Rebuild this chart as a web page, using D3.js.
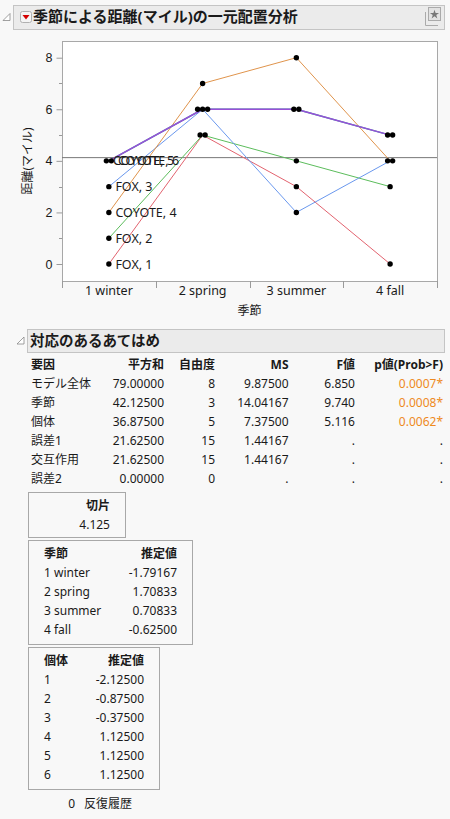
<!DOCTYPE html>
<html>
<head>
<meta charset="utf-8">
<script src="https://cdn.jsdelivr.net/npm/d3@7"></script>
<style>
	body { margin:0; background:#f8f8f8; }
	svg { display:block; font-family:"Noto Sans","Noto Sans CJK JP",sans-serif; }
	text { fill:#1a1a1a; }
</style>
</head>
<body>
<div id="chart"></div>
<script>

// ---- data ----
const seasons = ['1 winter','2 spring','3 summer','4 fall'];
const animals = ['FOX, 1','FOX, 2','FOX, 3','COYOTE, 4','COYOTE, 5','COYOTE, 6'];
const fox1 = [0,5,3,0];
const fox2 = [1,5,4,3];
const fox3 = [3,6,2,4];
const coyote4 = [2,7,8,4];
const coyote5 = [4,6,6,5];
const coyote6 = [4,6,6,5];
const lineColors = ['#e2636f','#5cbd5c','#6a98ee','#e0944c','#2aa198','#9a4fd8'];
const yTicks = [0,2,4,6,8];
const yMinor = [1,3,5,7];
const grandMean = 4.125;

const sources = ['モデル全体','季節','個体','誤差1','交互作用','誤差2'];
const sumSq = [79.0,42.125,36.875,21.625,21.625,0.0];
const dfs = [8,3,5,15,15,0];
const meanSq = [9.875,14.04167,7.375,1.44167,1.44167,null];
const fRatio = [6.850,9.740,5.116,null,null,null];
const pValue = [0.0007,0.0008,0.0062,null,null,null];

const seasonEst = [-1.79167,1.70833,0.70833,-0.625];
const animalIds = ['1','2','3','4','5','6'];
const animalEst = [-2.125,-0.875,-0.375,1.125,1.125,1.125];
const iterations = 0;

const series = [fox1,fox2,fox3,coyote4,coyote5,coyote6];

// ---- svg ----
const W = 450, H = 819;
const svg = d3.select('#chart').append('svg')
	.attr('width', W)
	.attr('height', H);

////////////////////////////////////////////////////////////////////
// header bars

function outlineHeader(x, y, w, h) {
	svg.append('polygon')
		.attr('points', `${x-10},${y+h/2+3.5} ${x-3},${y+h/2+3.5} ${x-3},${y+h/2-3.5}`)
		.attr('fill', '#fff')
		.attr('stroke', '#888')
		.attr('stroke-width', 0.8);
	svg.append('rect')
		.attr('x', x+0.5).attr('y', y+0.5)
		.attr('width', w).attr('height', h)
		.attr('fill', '#ebebeb')
		.attr('stroke', '#c4c4c4');
}

outlineHeader(13, 5, 431, 24);
// red menu button
svg.append('rect')
	.attr('x', 20.5).attr('y', 11.5)
	.attr('width', 11).attr('height', 11).attr('rx', 2)
	.attr('fill', '#f4f4f4').attr('stroke', '#b0b0b0');
svg.append('polygon')
	.attr('points', '22.5,15 29.5,15 26,19.5')
	.attr('fill', '#d40000');
svg.append('text')
	.attr('x', 33).attr('y', 17).attr('dy', '0.36em')
	.style('font-size', '15px').style('font-weight', 'bold')
	.text('季節による距離(マイル)の一元配置分析');
// star button
svg.append('path')
	.attr('d', 'M425.5,12 V25.5 H438')
	.attr('fill', 'none').attr('stroke', '#aaa');
svg.append('rect')
	.attr('x', 428.5).attr('y', 7.5).attr('width', 12).attr('height', 13)
	.attr('fill', '#e2e2e2').attr('stroke', '#aaa');
svg.append('path')
	.attr('d', d3.symbol(d3.symbolStar, 26)())
	.attr('transform', 'translate(434.5,14.5)')
	.attr('fill', '#777');

outlineHeader(27, 329, 417, 23);
svg.append('text')
	.attr('x', 30).attr('y', 341).attr('dy', '0.36em')
	.style('font-size', '14.5px').style('font-weight', 'bold')
	.text('対応のあるあてはめ');

////////////////////////////////////////////////////////////////////
// plot

const frame = {l:62, r:437, t:41, b:281};

const scaleX = d3.scaleBand().domain(seasons).range([frame.l, frame.r]);
const scaleY = d3.scaleLinear().domain([0,8]).range([264, 57.7]);
const mid = s => scaleX(s) + scaleX.bandwidth()/2;

svg.append('rect')
	.attr('x', frame.l+0.5).attr('y', frame.t+0.5)
	.attr('width', frame.r-frame.l).attr('height', frame.b-frame.t)
	.attr('fill', '#fff').attr('stroke', '#a8a8a8');

const axisY = d3.axisLeft(scaleY).tickValues(yTicks).tickSize(6).tickPadding(4);
const axisYNode = svg.append('g')
	.attr('class','axis axis-y')
	.attr('transform', `translate(${frame.l+0.5},0)`)
	.call(axisY);
axisYNode.select('.domain').remove();
axisYNode.selectAll('line').attr('stroke', '#9a9a9a');
axisYNode.selectAll('text').style('font-size', '12.5px').attr('fill', '#1a1a1a');

svg.append('g')
	.selectAll('line')
	.data(yMinor)
	.join('line')
	.attr('x1', frame.l-3).attr('x2', frame.l)
	.attr('y1', d => Math.round(scaleY(d))+0.5)
	.attr('y2', d => Math.round(scaleY(d))+0.5)
	.attr('stroke', '#9a9a9a');

// x axis: ticks at band borders, labels at band centres
svg.append('g')
	.selectAll('line')
	.data(seasons.map(s => scaleX(s)).concat([frame.r]))
	.join('line')
	.attr('x1', d => Math.round(d)+0.5).attr('x2', d => Math.round(d)+0.5)
	.attr('y1', frame.b).attr('y2', frame.b+7)
	.attr('stroke', '#9a9a9a');
svg.append('g')
	.selectAll('text')
	.data(seasons)
	.join('text')
	.attr('x', d => mid(d))
	.attr('y', 290).attr('dy', '0.36em')
	.attr('text-anchor', 'middle')
	.style('font-size', '12.5px')
	.text(d => d);

svg.append('text')
	.attr('x', (frame.l+frame.r)/2).attr('y', 311).attr('dy', '0.36em')
	.attr('text-anchor', 'middle')
	.style('font-size', '12px')
	.text('季節');
svg.append('text')
	.attr('transform', `translate(28,${(frame.t+frame.b)/2}) rotate(-90)`)
	.attr('dy', '0.36em')
	.attr('text-anchor', 'middle')
	.style('font-size', '12px')
	.text('距離(マイル)');

// grand mean
svg.append('line')
	.attr('x1', frame.l).attr('x2', frame.r)
	.attr('y1', scaleY(grandMean)).attr('y2', scaleY(grandMean))
	.attr('stroke', '#777').attr('stroke-width', 1);

// lines run through the category centres
const line = d3.line()
	.x((d, j) => mid(seasons[j]))
	.y(d => scaleY(d));

svg.append('g')
	.selectAll('path')
	.data(series)
	.join('path')
	.attr('d', line)
	.attr('fill', 'none')
	.attr('stroke', (d, i) => lineColors[i])
	.attr('stroke-width', (d, i) => i >= 4 ? 1.4 : 1);

// dots: tied values sit side by side
const gap = 5;
const pts = series.map((vals, i) => vals.map((v, j) => {
	const ties = series.map(s => s[j]).map((w, k) => ({w, k})).filter(o => o.w === v);
	const idx = ties.findIndex(o => o.k === i);
	const off = (idx - (ties.length-1)/2) * gap;
	return {x: mid(seasons[j]) + off, y: scaleY(v), v, i};
}));

svg.append('g')
	.selectAll('circle')
	.data(pts.flat())
	.join('circle')
	.attr('cx', d => d.x).attr('cy', d => d.y)
	.attr('r', 2.7)
	.attr('fill', '#000');

svg.append('g')
	.selectAll('text')
	.data(pts.map(p => p[0]))
	.join('text')
	.attr('x', d => d.x + 6.5)
	.attr('y', d => d.y).attr('dy', '0.36em')
	.style('font-size', '12.5px')
	.text(d => animals[d.i]);

////////////////////////////////////////////////////////////////////
// ANOVA table

const fmt5 = d3.format('.5f');
const fmt3 = d3.format('.3f');
const fmt4 = d3.format('.4f');
const rowY = d => 365 + 19*d;

const cols = [
	{head:'要因', x:31, anchor:'start', vals:sources},
	{head:'平方和', x:164, anchor:'end', vals:sumSq.map(fmt5)},
	{head:'自由度', x:215, anchor:'end', vals:dfs.map(String)},
	{head:'MS', x:288.5, anchor:'end', vals:meanSq.map(v => v === null ? '.' : fmt5(v))},
	{head:'F値', x:355, anchor:'end', vals:fRatio.map(v => v === null ? '.' : fmt3(v))},
	{head:'p値(Prob>F)', x:443, anchor:'end', vals:pValue.map(v => v === null ? '.' : fmt4(v)+'*')}
];

const table = svg.append('g').style('font-size', '12px');
cols.forEach((c, ci) => {
	table.append('text')
		.attr('x', c.x).attr('y', rowY(0)).attr('dy', '0.36em')
		.attr('text-anchor', c.anchor)
		.style('font-weight', 'bold')
		.text(c.head);
	table.selectAll(`.c${ci}`)
		.data(c.vals)
		.join('text')
		.attr('class', `c${ci}`)
		.attr('x', c.x).attr('y', (d, r) => rowY(r+1)).attr('dy', '0.36em')
		.attr('text-anchor', c.anchor)
		.style('fill', d => (ci === 5 && d !== '.') ? '#ee8a1e' : '#1a1a1a')
		.text(d => d);
});

// boxed estimates
function box(x0, y0, x1, y1) {
	svg.append('rect')
		.attr('x', x0+0.5).attr('y', y0+0.5)
		.attr('width', x1-x0).attr('height', y1-y0)
		.attr('fill', 'none').attr('stroke', '#a8a8a8');
}

box(28, 492, 125, 537);
svg.append('text').attr('x', 110).attr('y', 506).attr('dy', '0.36em')
	.attr('text-anchor', 'end').style('font-size', '12px').style('font-weight', 'bold')
	.text('切片');
svg.append('text').attr('x', 110).attr('y', 524.5).attr('dy', '0.36em')
	.attr('text-anchor', 'end').style('font-size', '12px')
	.text(grandMean.toFixed(3));

function estTable(y0, y1, xr, head, labels, vals) {
	box(28, y0, xr + 15, y1);
	const g = svg.append('g').style('font-size', '12px');
	g.append('text').attr('x', 44).attr('y', y0+13.5).attr('dy', '0.36em')
		.style('font-weight', 'bold').text(head);
	g.append('text').attr('x', xr).attr('y', y0+13.5).attr('dy', '0.36em')
		.attr('text-anchor', 'end').style('font-weight', 'bold').text('推定値');
	g.selectAll('.lab').data(labels).join('text')
		.attr('class', 'lab')
		.attr('x', 44).attr('y', (d, i) => y0+32.5+19*i).attr('dy', '0.36em')
		.text(d => d);
	g.selectAll('.val').data(vals).join('text')
		.attr('class', 'val')
		.attr('x', xr).attr('y', (d, i) => y0+32.5+19*i).attr('dy', '0.36em')
		.attr('text-anchor', 'end')
		.text(d => fmt5(d).replace('−', '-'));
}

estTable(540, 644, 177, '季節', seasons, seasonEst);
estTable(647, 789, 144, '個体', animalIds, animalEst);

svg.append('text').attr('x', 75).attr('y', 803.5).attr('dy', '0.36em')
	.attr('text-anchor', 'end').style('font-size', '12px')
	.text(iterations);
svg.append('text').attr('x', 84).attr('y', 803.5).attr('dy', '0.36em')
	.style('font-size', '12px')
	.text('反復履歴');

</script>
</body>
</html>
